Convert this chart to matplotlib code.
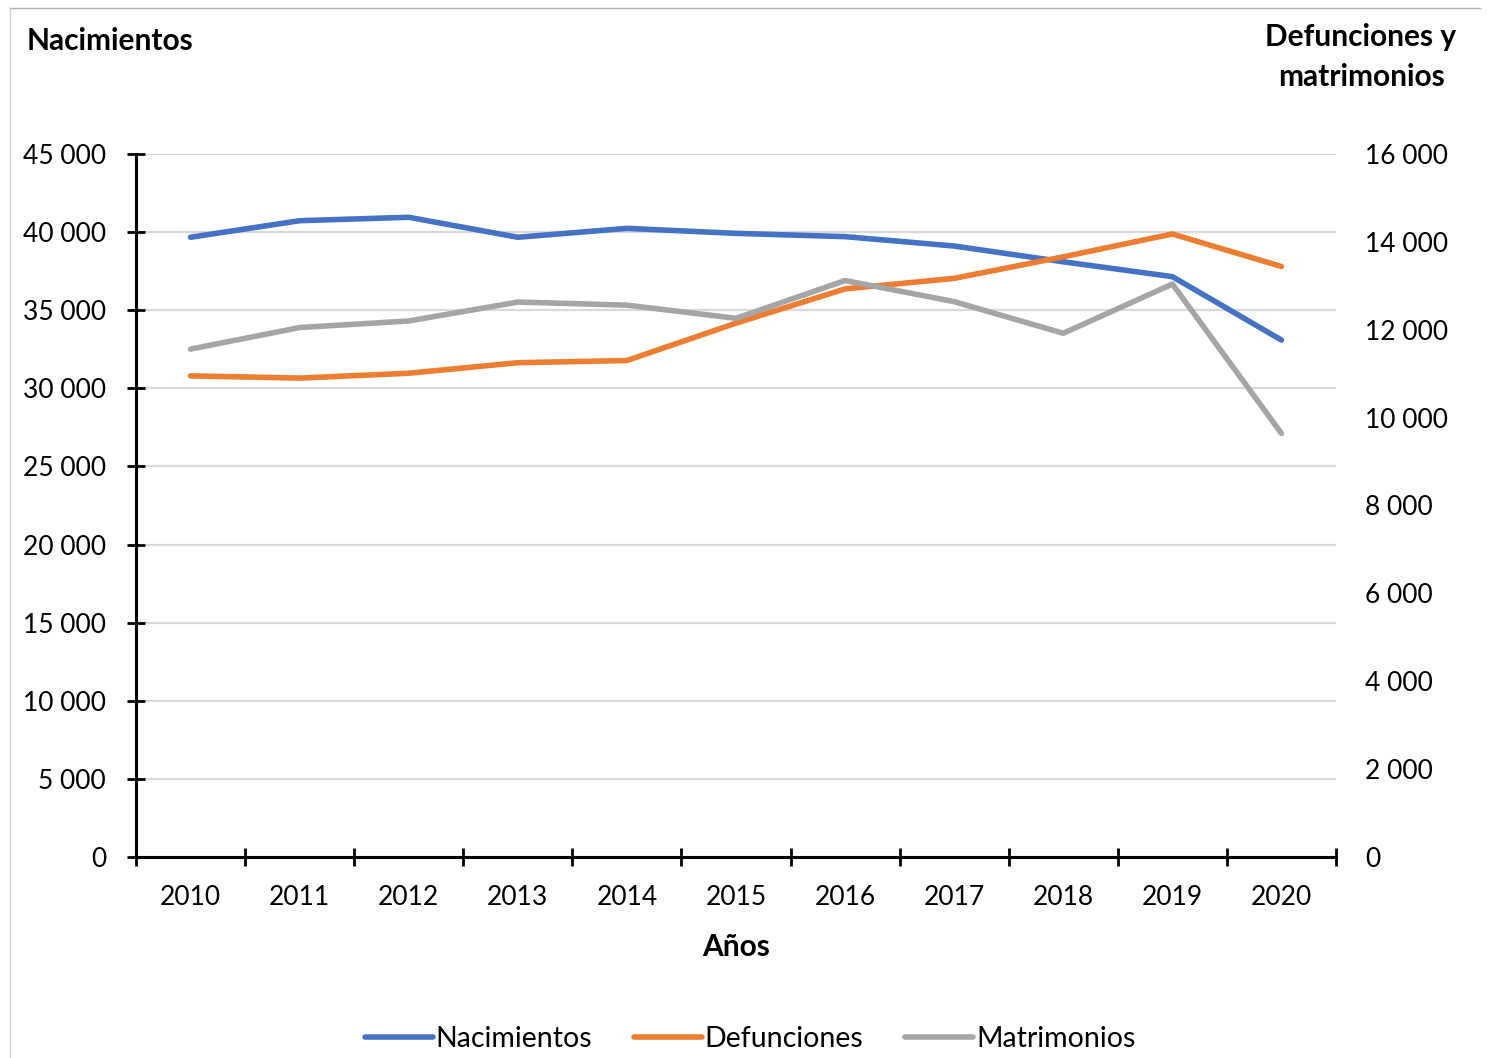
import matplotlib.pyplot as plt
from matplotlib.ticker import FuncFormatter, FixedLocator
from matplotlib.lines import Line2D

plt.rcParams['font.family'] = ['Lato', 'DejaVu Sans']

# Datos
anios = ["2010", "2011", "2012", "2013", "2014", "2015", "2016", "2017", "2018", "2019", "2020"]
nacimientos = [39670, 40730, 40950, 39670, 40240, 39920, 39710, 39110, 38100, 37150, 33090]
defunciones = [10950, 10900, 11010, 11250, 11300, 12150, 12930, 13170, 13660, 14180, 13440]
matrimonios = [11560, 12050, 12200, 12630, 12560, 12260, 13120, 12640, 11920, 13040, 9640]

azul = "#4472C4"
naranja = "#ED7D31"
gris = "#A5A5A5"

miles = FuncFormatter(lambda v, p: f"{v:,.0f}".replace(",", " "))

fig = plt.figure(figsize=(14.87, 10.58), dpi=100)
ax = fig.add_axes([136/1487, 1 - 857/1058, 1200/1487, 703/1058])
ax2 = ax.twinx()

x = list(range(len(anios)))
ax.plot(x, nacimientos, color=azul, lw=4, solid_capstyle="round", zorder=3)
ax2.plot(x, defunciones, color=naranja, lw=4, solid_capstyle="round", zorder=3)
ax2.plot(x, matrimonios, color=gris, lw=4, solid_capstyle="round", zorder=3)

# Eje izquierdo
ax.set_ylim(0, 45000)
ax.set_yticks(range(0, 45001, 5000))
ax.yaxis.set_major_formatter(miles)
ax.grid(axis="y", color="#d9d9d9", lw=1.6)
ax.set_axisbelow(True)
ax.tick_params(axis="y", direction="inout", length=13, width=2, labelsize=19, pad=15)

# Eje x: categorias con marcas entre ellas
ax.set_xlim(-0.5, len(anios) - 0.5)
ax.xaxis.set_major_locator(FixedLocator([i - 0.5 for i in range(len(anios) + 1)]))
ax.xaxis.set_minor_locator(FixedLocator(x))
ax.set_xticklabels([], minor=False)
ax.set_xticklabels(anios, minor=True)
ax.tick_params(axis="x", which="major", direction="inout", length=13, width=2)
ax.tick_params(axis="x", which="minor", length=0, labelsize=19, pad=20)
ax.set_xlabel("Años", fontsize=21.5, fontweight="bold", labelpad=17)

for s in ["top", "right"]:
    ax.spines[s].set_visible(False)
ax.spines["left"].set_linewidth(2.2)
ax.spines["bottom"].set_linewidth(2.2)

# Eje derecho
ax2.set_ylim(0, 16000)
ax2.set_yticks(range(0, 16001, 2000))
ax2.yaxis.set_major_formatter(miles)
ax2.tick_params(axis="y", length=0, labelsize=19, pad=21)
for s in ax2.spines.values():
    s.set_visible(False)

# Titulos de los ejes
fig.text(27/1487, 1 - 41/1058, "Nacimientos", fontsize=21.5, fontweight="bold", ha="left", va="center")
fig.text(1361/1487, 1 - 57/1058, "Defunciones y\nmatrimonios", fontsize=21.5, fontweight="bold",
         ha="center", va="center", linespacing=1.5)

# Leyenda
handles = [Line2D([], [], color=c, lw=4, solid_capstyle="round") for c in (azul, naranja, gris)]
fig.legend(handles, ["Nacimientos", "Defunciones", "Matrimonios"], loc="center",
           bbox_to_anchor=(750/1487, 1 - 1039/1058), ncol=3, frameon=False, fontsize=20.5,
           handlelength=2.4, handletextpad=0.1, columnspacing=1.45, borderpad=0.2)

# Marco
fig.add_artist(Line2D([10/1487, 1480/1487], [1 - 8/1058, 1 - 8/1058], color="#b0b0b0", lw=1))
fig.add_artist(Line2D([10/1487, 10/1487], [0, 1 - 8/1058], color="#d0d0d0", lw=1))

fig.savefig("out.png", dpi=100)
